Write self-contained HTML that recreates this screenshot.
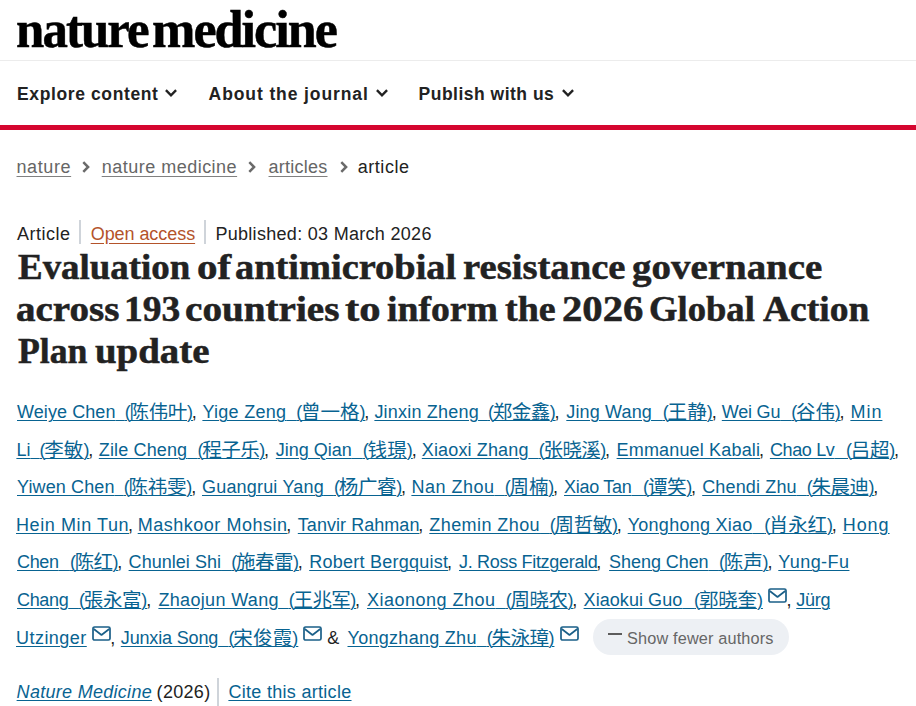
<!DOCTYPE html>
<html lang="en">
<head>
<meta charset="utf-8">
<title>Evaluation of antimicrobial resistance governance across 193 countries to inform the 2026 Global Action Plan update | Nature Medicine</title>
<style>
*{box-sizing:border-box;margin:0;padding:0}
html,body{width:916px;height:706px;overflow:hidden;background:#fff}
body{position:relative;font-family:"Liberation Sans","Noto Sans CJK SC",sans-serif;color:#222;-webkit-font-smoothing:antialiased}
a{color:inherit}
.abs{position:absolute;white-space:nowrap}
/* header */
.logo{top:-2px;font-family:"Liberation Serif",serif;font-weight:700;font-size:53px;line-height:62px;color:#000;transform-origin:0 0;letter-spacing:-2px;-webkit-text-stroke:.5px #000}
#hr1{left:0;top:60px;width:916px;height:1px;background:#ececec}
.nav{font-weight:700;font-size:17.5px;line-height:24px;top:81.5px;color:#222}
.chev{position:absolute;top:89px;width:12px;height:8px}
#red{left:0;top:125px;width:916px;height:5px;background:#d5062f}
/* breadcrumb */
.bc{top:156px;font-size:18px;line-height:22px;color:#666}
.bc a{text-decoration:underline;text-underline-offset:3px;text-decoration-thickness:1.4px;text-decoration-color:#808080}
.bcsep{position:absolute;top:161px;width:8px;height:12px}
/* meta */
.meta{top:222.6px;font-size:18px;line-height:22px;color:#222}
.vbar{position:absolute;width:2px;background:#cfd4da}
/* title */
#title{font-size:36px;font-weight:700}
.tw{position:absolute;white-space:nowrap;font-family:"Liberation Serif",serif;font-weight:700;font-size:35px;line-height:42px;color:#222;transform-origin:0 0;-webkit-text-stroke:.5px #222}
/* authors */
.al{left:17px;font-size:18px;line-height:24px;color:#222}
.al a{color:#086391;text-decoration:underline;text-underline-offset:1.7px;text-decoration-thickness:1px}

.env{position:absolute;width:19px;height:15px}
.cm{position:absolute;top:0}
.cj{font-size:19.5px;line-height:0;position:relative;top:1px}
.c{margin-left:-1.2px}
#btn{left:593px;top:619px;width:195.5px;height:35.5px;border-radius:18px;background:#edf0f4;color:#666;font-size:16.3px;line-height:38px;padding-left:34px;letter-spacing:.15px}
#minus{position:absolute;left:15.3px;top:14.2px;width:13.7px;height:2.3px;background:#5c5c5c}
</style>
</head>
<body>
<div id="logo"><span class="abs logo" id="lg1" style="left:16px;transform:scaleX(.96)">nature</span> <span class="abs logo" id="lg2" style="left:151.5px;transform:scaleX(.983)">medicine</span></div>
<div class="abs" id="hr1"></div>

<div class="abs nav" id="n1" style="left:17px;letter-spacing:.62px">Explore content</div>
<div class="abs nav" id="n2" style="left:208.6px;letter-spacing:.9px">About the journal</div>
<div class="abs nav" id="n3" style="left:418.6px;letter-spacing:.49px">Publish with us</div>
<svg class="chev" style="left:165px" viewBox="0 0 12 8"><path d="M0.9 1.2 L6 6.3 L11.1 1.2" fill="none" stroke="#222" stroke-width="2.4"/></svg><svg class="chev" style="left:375.5px" viewBox="0 0 12 8"><path d="M0.9 1.2 L6 6.3 L11.1 1.2" fill="none" stroke="#222" stroke-width="2.4"/></svg><svg class="chev" style="left:561.5px" viewBox="0 0 12 8"><path d="M0.9 1.2 L6 6.3 L11.1 1.2" fill="none" stroke="#222" stroke-width="2.4"/></svg>
<svg class="bcsep" style="left:82px" viewBox="0 0 8 12"><path d="M1.3 1.2 L6.1 6 L1.3 10.8" fill="none" stroke="#6a6a6a" stroke-width="2.5"/></svg><svg class="bcsep" style="left:248px" viewBox="0 0 8 12"><path d="M1.3 1.2 L6.1 6 L1.3 10.8" fill="none" stroke="#6a6a6a" stroke-width="2.5"/></svg><svg class="bcsep" style="left:340px" viewBox="0 0 8 12"><path d="M1.3 1.2 L6.1 6 L1.3 10.8" fill="none" stroke="#6a6a6a" stroke-width="2.5"/></svg>
<div class="vbar" style="left:79px;top:220px;height:24px"></div><div class="vbar" style="left:204px;top:220px;height:24px"></div>
<div class="abs" id="red"></div>

<div class="abs bc" id="b1" style="left:16.5px;letter-spacing:.6px"><a>nature</a></div>
<div class="abs bc" id="b2" style="left:101.7px;letter-spacing:.49px"><a>nature medicine</a></div>
<div class="abs bc" id="b3" style="left:268.5px;letter-spacing:.25px"><a>articles</a></div>
<div class="abs bc" id="b4" style="left:357.7px;color:#222;letter-spacing:.55px">article</div>

<div class="abs meta" id="m1" style="left:17px;letter-spacing:.5px">Article</div>
<div class="abs meta" id="m2" style="left:90.7px;color:#b4532a;letter-spacing:-.06px"><a style="text-decoration:underline;text-underline-offset:3px">Open access</a></div>
<div class="abs meta" id="m3" style="left:215.4px;letter-spacing:.3px">Published: 03 March 2026</div>

<h1 id="title">
<span class="tw" style="left:17.70px;top:246.5px;transform:scaleX(1.0549)">Evaluation</span>
<span class="tw" style="left:196.52px;top:246.5px;transform:scaleX(1.1706)">of</span>
<span class="tw" style="left:234.91px;top:246.5px;transform:scaleX(1.0972)">antimicrobial</span>
<span class="tw" style="left:462.64px;top:246.5px;transform:scaleX(1.1049)">resistance</span>
<span class="tw" style="left:632.02px;top:246.5px;transform:scaleX(1.1126)">governance</span>

<span class="tw" style="left:16.16px;top:288.5px;transform:scaleX(1.1156)">across</span>
<span class="tw" style="left:123.72px;top:288.5px;transform:scaleX(1.0712)">193</span>
<span class="tw" style="left:185.17px;top:288.5px;transform:scaleX(1.1191)">countries</span>
<span class="tw" style="left:345.43px;top:288.5px;transform:scaleX(1.2194)">to</span>
<span class="tw" style="left:386.76px;top:288.5px;transform:scaleX(1.0775)">inform</span>
<span class="tw" style="left:504.94px;top:288.5px;transform:scaleX(1.0857)">the</span>
<span class="tw" style="left:561.89px;top:288.5px;transform:scaleX(1.1638)">2026</span>
<span class="tw" style="left:649.30px;top:288.5px;transform:scaleX(1.0461)">Global</span>
<span class="tw" style="left:762.69px;top:288.5px;transform:scaleX(1.0723)">Action</span>

<span class="tw" style="left:18.00px;top:330.5px;transform:scaleX(1.0207)">Plan</span>
<span class="tw" style="left:94.91px;top:330.5px;transform:scaleX(1.1103)">update</span>
</h1>

<!--AUTH-->
<div class="abs al" style="left:17.00px;top:400.06px"><a><span style="letter-spacing:0.077px">Weiye Chen</span><span style="word-spacing:4.21px"> </span><span style="letter-spacing:-1.2px">(</span><span class="cj" style="letter-spacing:-0.33px">陈伟叶</span>)</a><span class="c">,</span></div>
<div class="abs al" style="left:202.40px;top:400.06px"><a><span style="letter-spacing:0.278px">Yige Zeng</span><span style="word-spacing:4.91px"> </span><span style="letter-spacing:-1.2px">(</span><span class="cj" style="letter-spacing:-0.03px">曾一格</span>)</a><span class="c">,</span></div>
<div class="abs al" style="left:374.40px;top:400.06px"><a><span style="letter-spacing:0.205px">Jinxin Zheng</span><span style="word-spacing:3.98px"> </span><span style="letter-spacing:-1.2px">(</span><span class="cj" style="letter-spacing:-0.53px">郑金鑫</span>)</a><span class="c">,</span></div>
<div class="abs al" style="left:566.30px;top:400.06px"><a><span style="letter-spacing:0.142px">Jing Wang</span><span style="word-spacing:5.75px"> </span><span style="letter-spacing:-1.2px">(</span><span class="cj" style="letter-spacing:0.15px">王静</span>)</a><span class="c">,</span></div>
<div class="abs al" style="left:721.80px;top:400.06px"><a><span style="letter-spacing:-0.215px">Wei Gu</span><span style="word-spacing:6.10px"> </span><span style="letter-spacing:-1.2px">(</span><span class="cj" style="letter-spacing:-0.20px">谷伟</span>)</a><span class="c">,</span></div>
<div class="abs al" style="left:850.40px;top:400.06px"><a><span style="letter-spacing:1.000px">Min</span></a></div>

<div class="abs al" style="left:16.40px;top:437.66px"><a><span style="letter-spacing:-0.011px">Li</span><span style="word-spacing:4.01px"> </span><span style="letter-spacing:-1.2px">(</span><span class="cj" style="letter-spacing:0.15px">李敏</span>)</a><span class="c">,</span></div>
<div class="abs al" style="left:98.80px;top:437.66px"><a><span style="letter-spacing:0.140px">Zile Cheng</span><span style="word-spacing:5.15px"> </span><span style="letter-spacing:-1.2px">(</span><span class="cj" style="letter-spacing:-0.53px">程子乐</span>)</a><span class="c">,</span></div>
<div class="abs al" style="left:275.80px;top:437.66px"><a><span style="letter-spacing:-0.004px">Jing Qian</span><span style="word-spacing:5.89px"> </span><span style="letter-spacing:-1.2px">(</span><span class="cj" style="letter-spacing:0.15px">钱璟</span>)</a><span class="c">,</span></div>
<div class="abs al" style="left:421.80px;top:437.66px"><a><span style="letter-spacing:0.141px">Xiaoxi Zhang</span><span style="word-spacing:5.15px"> </span><span style="letter-spacing:-1.2px">(</span><span class="cj" style="letter-spacing:-0.63px">张晓溪</span>)</a><span class="c">,</span></div>
<div class="abs al" style="left:616.60px;top:437.66px"><a><span style="letter-spacing:0.166px">Emmanuel Kabali</span></a><span class="c">,</span></div>
<div class="abs al" style="left:769.90px;top:437.66px"><a><span style="letter-spacing:-0.350px">Chao Lv</span><span style="word-spacing:6.55px"> </span><span style="letter-spacing:-1.2px">(</span><span class="cj" style="letter-spacing:-0.35px">吕超</span>)</a><span class="c">,</span></div>

<div class="abs al" style="left:17.00px;top:475.26px"><a><span style="letter-spacing:0.113px">Yiwen Chen</span><span style="word-spacing:4.08px"> </span><span style="letter-spacing:-1.2px">(</span><span class="cj" style="letter-spacing:-0.20px">陈祎雯</span>)</a><span class="c">,</span></div>
<div class="abs al" style="left:202.00px;top:475.26px"><a><span style="letter-spacing:0.188px">Guangrui Yang</span><span style="word-spacing:5.00px"> </span><span style="letter-spacing:-1.2px">(</span><span class="cj" style="letter-spacing:-0.30px">杨广睿</span>)</a><span class="c">,</span></div>
<div class="abs al" style="left:411.40px;top:475.26px"><a><span style="letter-spacing:0.495px">Nan Zhou</span><span style="word-spacing:5.39px"> </span><span style="letter-spacing:-1.2px">(</span><span class="cj" style="letter-spacing:-0.20px">周楠</span>)</a><span class="c">,</span></div>
<div class="abs al" style="left:564.00px;top:475.26px"><a><span style="letter-spacing:-0.277px">Xiao Tan</span><span style="word-spacing:6.57px"> </span><span style="letter-spacing:-1.2px">(</span><span class="cj" style="letter-spacing:-0.35px">谭笑</span>)</a><span class="c">,</span></div>
<div class="abs al" style="left:702.20px;top:475.26px"><a><span style="letter-spacing:0.150px">Chendi Zhu</span><span style="word-spacing:5.04px"> </span><span style="letter-spacing:-1.2px">(</span><span class="cj" style="letter-spacing:-0.53px">朱晨迪</span>)</a><span class="c">,</span></div>

<div class="abs al" style="left:16.00px;top:512.76px"><a><span style="letter-spacing:0.594px">Hein Min Tun</span></a><span class="c">,</span></div>
<div class="abs al" style="left:137.70px;top:512.76px"><a><span style="letter-spacing:0.518px">Mashkoor Mohsin</span></a><span class="c">,</span></div>
<div class="abs al" style="left:297.80px;top:512.76px"><a><span style="letter-spacing:0.047px">Tanvir Rahman</span></a><span class="c">,</span></div>
<div class="abs al" style="left:429.30px;top:512.76px"><a><span style="letter-spacing:0.426px">Zhemin Zhou</span><span style="word-spacing:4.76px"> </span><span style="letter-spacing:-1.2px">(</span><span class="cj" style="letter-spacing:-0.37px">周哲敏</span>)</a><span class="c">,</span></div>
<div class="abs al" style="left:627.70px;top:512.76px"><a><span style="letter-spacing:0.263px">Yonghong Xiao</span><span style="word-spacing:6.63px"> </span><span style="letter-spacing:-1.2px">(</span><span class="cj" style="letter-spacing:-0.20px">肖永红</span>)</a><span class="c">,</span></div>
<div class="abs al" style="left:842.70px;top:512.76px"><a><span style="letter-spacing:0.960px">Hong</span></a></div>

<div class="abs al" style="left:17.00px;top:550.36px"><a><span style="letter-spacing:-0.350px">Chen</span><span style="word-spacing:6.24px"> </span><span style="letter-spacing:-1.2px">(</span><span class="cj" style="letter-spacing:-0.65px">陈红</span>)</a><span class="c">,</span></div>
<div class="abs al" style="left:128.60px;top:550.36px"><a><span style="letter-spacing:0.034px">Chunlei Shi</span><span style="word-spacing:5.17px"> </span><span style="letter-spacing:-1.2px">(</span><span class="cj" style="letter-spacing:-0.53px">施春雷</span>)</a><span class="c">,</span></div>
<div class="abs al" style="left:309.20px;top:550.36px"><a><span style="letter-spacing:0.242px">Robert Bergquist</span></a><span class="c">,</span></div>
<div class="abs al" style="left:459.00px;top:550.36px"><a><span style="letter-spacing:-0.308px">J. Ross Fitzgerald</span></a><span class="c">,</span></div>
<div class="abs al" style="left:609.10px;top:550.36px"><a><span style="letter-spacing:-0.063px">Sheng Chen</span><span style="word-spacing:5.35px"> </span><span style="letter-spacing:-1.2px">(</span><span class="cj" style="letter-spacing:-0.05px">陈声</span>)</a><span class="c">,</span></div>
<div class="abs al" style="left:778.30px;top:550.36px"><a><span style="letter-spacing:0.444px">Yung-Fu</span></a></div>

<div class="abs al" style="left:17.00px;top:587.96px"><a><span style="letter-spacing:-0.333px">Chang</span><span style="word-spacing:5.52px"> </span><span style="letter-spacing:-1.2px">(</span><span class="cj" style="letter-spacing:-0.30px">張永富</span>)</a><span class="c">,</span></div>
<div class="abs al" style="left:158.40px;top:587.96px"><a><span style="letter-spacing:0.337px">Zhaojun Wang</span><span style="word-spacing:4.85px"> </span><span style="letter-spacing:-1.2px">(</span><span class="cj" style="letter-spacing:-0.57px">王兆军</span>)</a><span class="c">,</span></div>
<div class="abs al" style="left:367.00px;top:587.96px"><a><span style="letter-spacing:0.484px">Xiaonong Zhou</span><span style="word-spacing:5.40px"> </span><span style="letter-spacing:-1.2px">(</span><span class="cj" style="letter-spacing:-0.53px">周晓农</span>)</a><span class="c">,</span></div>
<div class="abs al" style="left:583.60px;top:587.96px"><a><span style="letter-spacing:0.055px">Xiaokui Guo</span><span style="word-spacing:6.83px"> </span><span style="letter-spacing:-1.2px">(</span><span class="cj" style="letter-spacing:-0.17px">郭晓奎</span>)</a><span class="cm" style="left:202.8px">,</span></div>
<svg class="env" style="left:768.0px;top:587.9px" viewBox="0 0 19 15"><rect x="1" y="1" width="17" height="13" rx="1.6" fill="none" stroke="#1a5f88" stroke-width="1.7"/><path d="M1.8 3 L9.5 9 L17.2 3" fill="none" stroke="#1a5f88" stroke-width="1.7" stroke-linejoin="round"/></svg>
<div class="abs al" style="left:796.30px;top:587.96px"><a><span style="letter-spacing:-0.302px">Jürg</span></a></div>

<div class="abs al" style="left:16.00px;top:625.56px"><a><span style="letter-spacing:0.467px">Utzinger</span></a><span class="cm" style="left:94.2px">,</span></div>
<svg class="env" style="left:91.8px;top:625.5px" viewBox="0 0 19 15"><rect x="1" y="1" width="17" height="13" rx="1.6" fill="none" stroke="#1a5f88" stroke-width="1.7"/><path d="M1.8 3 L9.5 9 L17.2 3" fill="none" stroke="#1a5f88" stroke-width="1.7" stroke-linejoin="round"/></svg>
<div class="abs al" style="left:120.80px;top:625.56px"><a><span style="letter-spacing:-0.156px">Junxia Song</span><span style="word-spacing:5.35px"> </span><span style="letter-spacing:-1.2px">(</span><span class="cj" style="letter-spacing:0.17px">宋俊霞</span>)</a></div>
<svg class="env" style="left:302.7px;top:625.5px" viewBox="0 0 19 15"><rect x="1" y="1" width="17" height="13" rx="1.6" fill="none" stroke="#1a5f88" stroke-width="1.7"/><path d="M1.8 3 L9.5 9 L17.2 3" fill="none" stroke="#1a5f88" stroke-width="1.7" stroke-linejoin="round"/></svg>
<div class="abs al" style="left:347.50px;top:625.56px"><a><span style="letter-spacing:0.289px">Yongzhang Zhu</span><span style="word-spacing:5.00px"> </span><span style="letter-spacing:-1.2px">(</span><span class="cj" style="letter-spacing:-0.53px">朱泳璋</span>)</a></div>
<svg class="env" style="left:559.5px;top:625.5px" viewBox="0 0 19 15"><rect x="1" y="1" width="17" height="13" rx="1.6" fill="none" stroke="#1a5f88" stroke-width="1.7"/><path d="M1.8 3 L9.5 9 L17.2 3" fill="none" stroke="#1a5f88" stroke-width="1.7" stroke-linejoin="round"/></svg>

<div class="abs al" style="left:327.2px;top:625.56px">&amp;</div>
<!--/AUTH-->
<div class="abs" id="btn"><span id="minus"></span>Show fewer authors</div>
<div class="abs al" id="f1" style="top:679.7px;left:16.6px"><a style="font-style:italic;letter-spacing:.29px">Nature Medicine</a> <span style="position:absolute;left:140px;top:0;letter-spacing:.3px">(2026)</span></div>
<div class="vbar" id="fbar" style="left:217.3px;top:678px;height:28px"></div>
<div class="abs al" id="f2" style="top:679.7px;left:228.4px;letter-spacing:.3px"><a>Cite this article</a></div>

</body>
</html>
